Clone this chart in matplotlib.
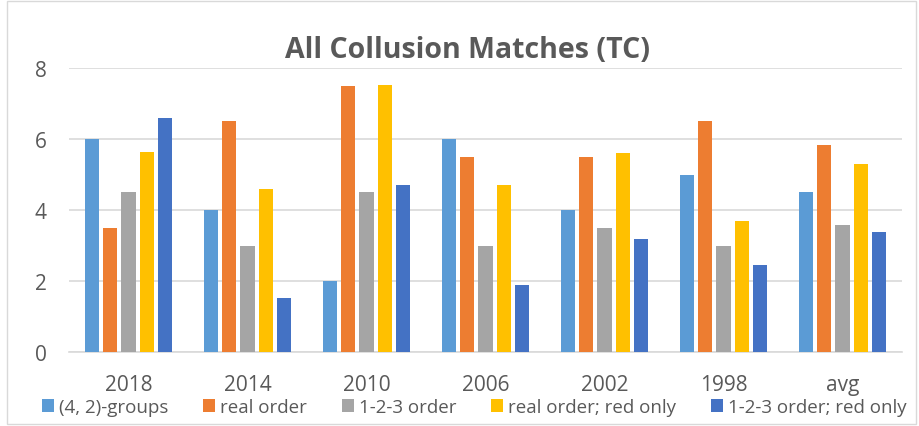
import matplotlib
import matplotlib.pyplot as plt
import numpy as np
from matplotlib.patches import Rectangle

matplotlib.use("Agg")

categories = ["2018", "2014", "2010", "2006", "2002", "1998", "avg"]
series_names = [
    "(4, 2)-groups",
    "real order",
    "1-2-3 order",
    "real order; red only",
    "1-2-3 order; red only",
]
groups_42 = [6.0, 4.0, 2.0, 6.0, 4.0, 5.0, 4.5]
real_order = [3.5, 6.5, 7.5, 5.5, 5.5, 6.5, 5.83]
order_123 = [4.5, 3.0, 4.5, 3.0, 3.5, 3.0, 3.58]
real_red = [5.63, 4.58, 7.53, 4.7, 5.6, 3.68, 5.29]
order_123_red = [6.59, 1.52, 4.7, 1.88, 3.19, 2.45, 3.38]

colors = ["#5B9BD5", "#ED7D31", "#A5A5A5", "#FFC000", "#4472C4"]
text_color = "#595959"
grid_color = "#D9D9D9"

plt.rcParams["font.family"] = ["Open Sans", "DejaVu Sans"]

fig = plt.figure(figsize=(9.2, 4.27), dpi=100)
ax = fig.add_axes([0.075, 0.1733, 0.9054, 0.6651])

# chart border like the Excel chart frame
fig.patches.append(
    Rectangle((0.008, 0.005), 0.988, 0.99, transform=fig.transFigure,
              fill=False, edgecolor=grid_color, linewidth=1.0)
)

x = np.arange(len(categories))
step = 0.154
width = 0.12
all_series = [groups_42, real_order, order_123, real_red, order_123_red]
for i, (vals, name) in enumerate(zip(all_series, series_names)):
    ax.bar(x + (i - 2) * step, vals, width=width, color=colors[i],
           label=name, zorder=3)

ax.set_xlim(-0.5, len(categories) - 0.5)
ax.set_ylim(0, 8)
ax.set_yticks([0, 2, 4, 6, 8])
ax.set_xticks(x)
ax.set_xticklabels(categories)
ax.grid(axis="y", color=grid_color, linewidth=1.2, zorder=0)
for side in ["top", "right", "left"]:
    ax.spines[side].set_visible(False)
ax.spines["bottom"].set_color(grid_color)
ax.spines["bottom"].set_linewidth(1.2)
ax.tick_params(axis="both", length=0, colors=text_color, labelsize=15)
ax.tick_params(axis="y", pad=16)
ax.tick_params(axis="x", pad=16)

fig.text(468 / 920, 1 - 50 / 427, "All Collusion Matches (TC)",
         ha="center", va="center", fontsize=20.5, fontweight="bold",
         color=text_color)

leg = fig.legend(
    loc="center", bbox_to_anchor=(474 / 920, 1 - 408 / 427), ncol=5,
    frameon=False, fontsize=13.5, handlelength=0.64, handleheight=0.64,
    handletextpad=0.27, columnspacing=1.85, borderpad=0,
)
for t in leg.get_texts():
    t.set_color(text_color)

plt.savefig("out.png", dpi=100)
plt.close()
